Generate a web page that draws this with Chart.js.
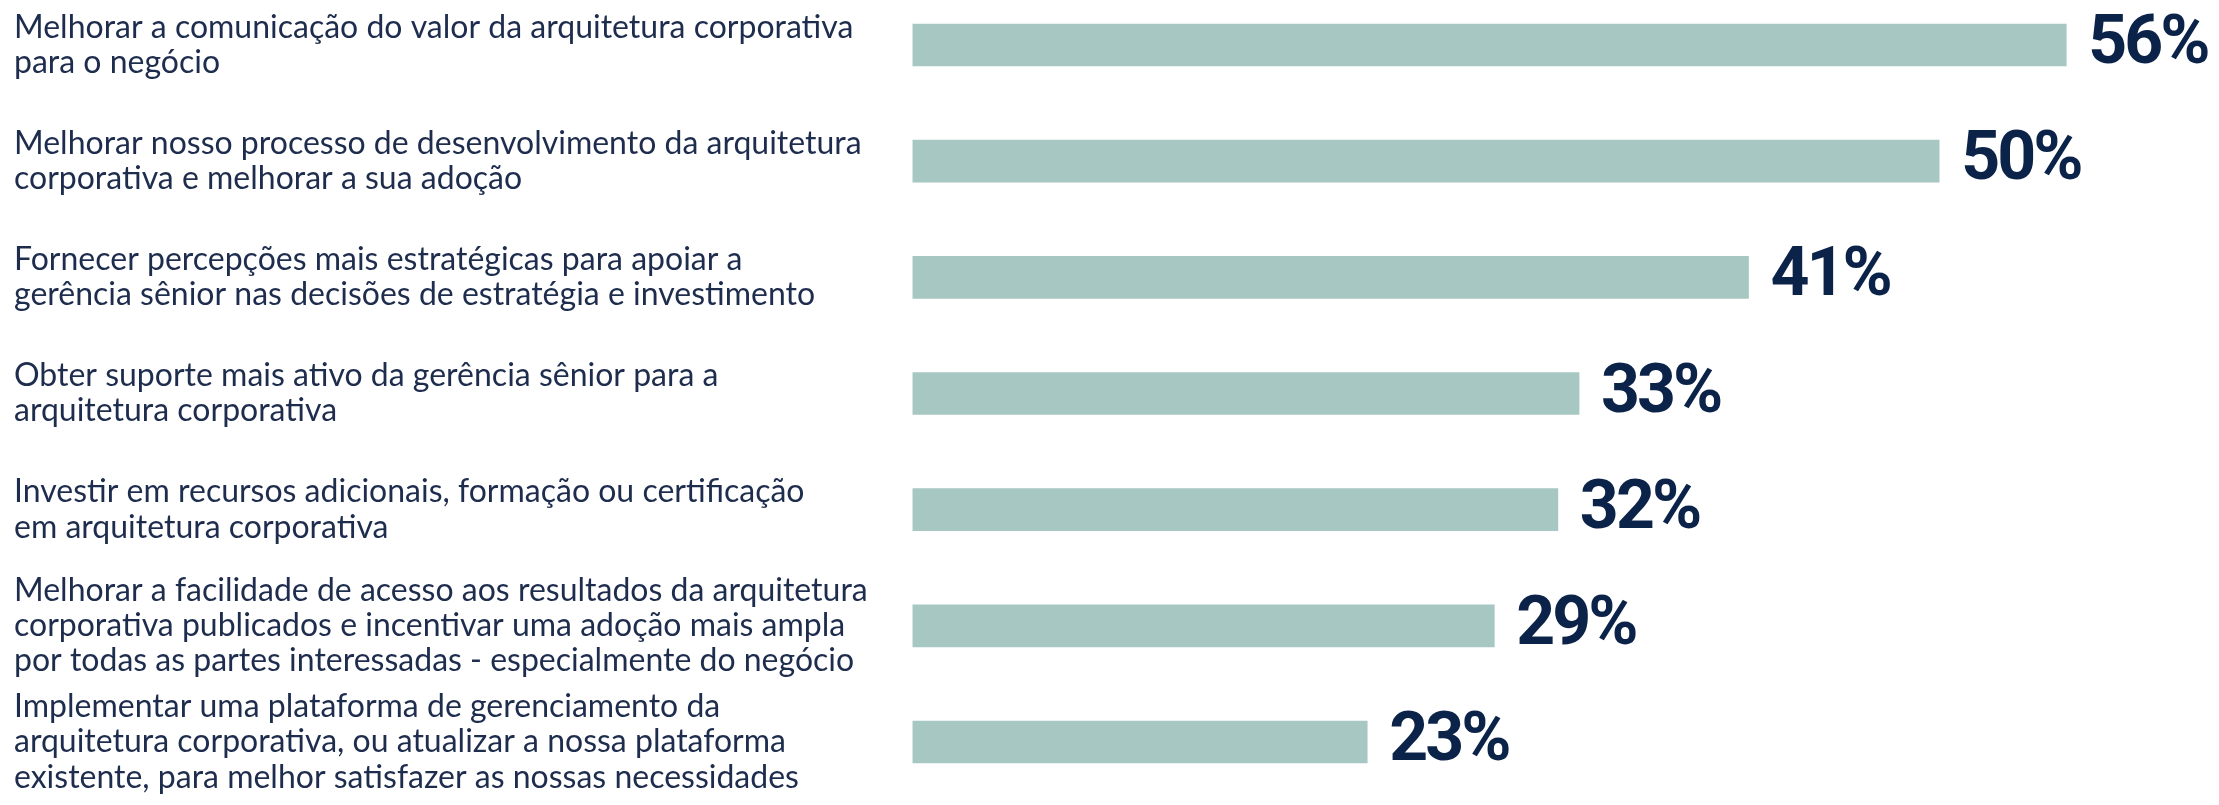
<!DOCTYPE html>
<html>
<head>
<meta charset="utf-8">
<script src="https://cdn.jsdelivr.net/npm/chart.js@4"></script>
<style>
  html, body { margin: 0; padding: 0; background: #fff; }
  #wrap { width: 2219px; height: 805px; }
</style>
</head>
<body>
<div id="wrap"><canvas id="barChart" width="2219" height="805"></canvas></div>
<script>
// categorias (quebradas em linhas como no original)
const categories = [
    ['Melhorar a comunicação do valor da arquitetura corporativa', 'para o negócio'],
    ['Melhorar nosso processo de desenvolvimento da arquitetura', 'corporativa e melhorar a sua adoção'],
    ['Fornecer percepções mais estratégicas para apoiar a', 'gerência sênior nas decisões de estratégia e investimento'],
    ['Obter suporte mais ativo da gerência sênior para a', 'arquitetura corporativa'],
    ['Investir em recursos adicionais, formação ou certificação', 'em arquitetura corporativa'],
    ['Melhorar a facilidade de acesso aos resultados da arquitetura', 'corporativa publicados e incentivar uma adoção mais ampla', 'por todas as partes interessadas - especialmente do negócio'],
    ['Implementar uma plataforma de gerenciamento da', 'arquitetura corporativa, ou atualizar a nossa plataforma', 'existente, para melhor satisfazer as nossas necessidades']
];
const values = [56, 50, 41, 33, 32, 29, 23];
const valueLabels = ['56%', '50%', '41%', '33%', '32%', '29%', '23%'];

const barColor = '#a7c8c2';
const navy = '#0c2349';
const labelColor = '#1e2d4d';

// rotulos de valor na ponta das barras
const valueLabelPlugin = {
    id: 'valueLabels',
    afterDatasetsDraw(chart) {
        const ctx = chart.ctx;
        const meta = chart.getDatasetMeta(0);
        ctx.save();
        ctx.font = 'bold 68px Roboto';
        ctx.fillStyle = navy;
        ctx.textAlign = 'left';
        ctx.textBaseline = 'middle';
        if ('letterSpacing' in ctx) ctx.letterSpacing = '-3px';
        meta.data.forEach((bar, i) => {
            ctx.fillText(valueLabels[i], bar.x + 22, bar.y + 1);
        });
        ctx.restore();
    }
};

const ctx = document.getElementById('barChart').getContext('2d');
const barChart = new Chart(ctx, {
    type: 'bar',
    data: {
        labels: categories,
        datasets: [{
            data: values,
            backgroundColor: barColor,
            borderWidth: 0,
            barThickness: 42,
            base: 1.55,
            clip: false
        }]
    },
    options: {
        indexAxis: 'y',
        responsive: false,
        devicePixelRatio: 1,
        animation: false,
        layout: {
            padding: { left: 14, right: 68, top: 45, bottom: 63 }
        },
        plugins: {
            legend: { display: false },
            tooltip: { enabled: false }
        },
        scales: {
            x: {
                display: false,
                min: 0,
                max: 60
            },
            y: {
                offset: false,
                grid: { display: false, drawTicks: false },
                border: { display: false },
                afterFit: (scale) => {
                    scale.width = 866;
                    scale.paddingTop = 0;
                    scale.paddingBottom = 0;
                },
                ticks: {
                    crossAlign: 'far',
                    padding: 0,
                    color: labelColor,
                    font: { family: 'Lato', size: 32, weight: 400, lineHeight: 1.1 }
                }
            }
        }
    },
    plugins: [valueLabelPlugin]
});
</script>
</body>
</html>
